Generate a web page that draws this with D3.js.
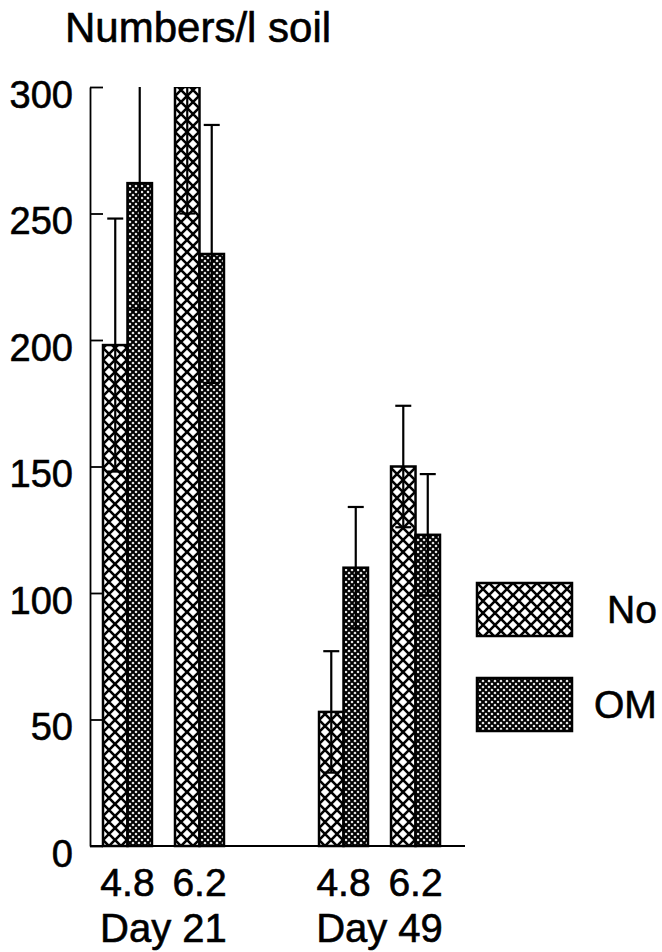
<!DOCTYPE html>
<html>
<head>
<meta charset="utf-8">
<script src="https://cdn.jsdelivr.net/npm/d3@7"></script>
<style>
  body { margin: 0; background: #fff; }
  text { font-family: "Liberation Sans", Arial, Helvetica, sans-serif; fill: #000; stroke: #000; stroke-width: 0.6px; }
</style>
</head>
<body>
<div id="chart"></div>
<script>
// data
const days = ["Day 21", "Day 49"];
const phs = ["4.8", "6.2"];
const treatments = ["No", "OM"];
const noMeans = [198, 300, 53, 150];
const noErr = [50, 50, 24, 24];
const omMeans = [262, 234, 110, 123];
const omErr = [50, 51, 24, 24];
const yTicks = [0, 50, 100, 150, 200, 250, 300];

(function() {
    // build rows: one per day/pH group
    const groups = [];
    days.forEach((day, i) => {
        phs.forEach((ph, j) => {
            const k = i * phs.length + j;
            groups.push({
                key: day + "|" + ph, day, ph,
                bars: [
                    { t: "No", v: noMeans[k], e: noErr[k] },
                    { t: "OM", v: omMeans[k], e: omErr[k] }
                ]
            });
        });
    });
    // empty slot between the two days
    const slots = [groups[0].key, groups[1].key, "gap", groups[2].key, groups[3].key];

    const W = 662, H = 952;
    const svg = d3.select("#chart").append("svg")
        .attr("width", W)
        .attr("height", H);

    const plotLeft = 90, plotTop = 87, plotBottom = 846, plotRight = 465;

    const y = d3.scaleLinear().domain([0, 300]).range([plotBottom, plotTop]);
    const x = d3.scaleBand().domain(slots).range([103, 440]).paddingInner(0.32).paddingOuter(0);
    const xt = d3.scaleBand().domain(treatments).range([0, x.bandwidth()]);

    // patterns
    const defs = svg.append("defs");
    const pNo = defs.append("pattern").attr("id", "pat-No")
        .attr("patternUnits", "userSpaceOnUse").attr("width", 12).attr("height", 12);
    pNo.append("rect").attr("width", 12).attr("height", 12).attr("fill", "#fff");
    pNo.append("path").attr("d", "M-1,-1L13,13M13,-1L-1,13")
        .attr("stroke", "#000").attr("stroke-width", 2.6);

    const pOM = defs.append("pattern").attr("id", "pat-OM")
        .attr("patternUnits", "userSpaceOnUse").attr("width", 6).attr("height", 6);
    pOM.append("rect").attr("width", 6).attr("height", 6).attr("fill", "#fff");
    pOM.append("path").attr("d", "M-1,-1L7,7M7,-1L-1,7")
        .attr("stroke", "#000").attr("stroke-width", 2.1);

    defs.append("clipPath").attr("id", "plot-clip")
        .append("rect").attr("x", 0).attr("y", plotTop).attr("width", W).attr("height", plotBottom - plotTop + 20);

    // title
    svg.append("text")
        .attr("x", 65).attr("y", 42)
        .style("font-size", "42px")
        .text("Numbers/l soil");

    // bars
    const g = svg.append("g").attr("clip-path", "url(#plot-clip)");
    const grp = g.selectAll(".grp").data(groups).join("g")
        .attr("class", "grp")
        .attr("transform", d => `translate(${x(d.key)},0)`);

    grp.selectAll("rect").data(d => d.bars).join("rect")
        .attr("x", d => xt(d.t))
        .attr("y", d => y(d.v))
        .attr("width", xt.bandwidth())
        .attr("height", d => y(0) - y(d.v))
        .attr("fill", d => `url(#pat-${d.t})`)
        .attr("stroke", "#000")
        .attr("stroke-width", 2.5);

    // error bars
    const eb = grp.selectAll(".err").data(d => d.bars).join("g").attr("class", "err")
        .attr("stroke", "#000").attr("stroke-width", 2.2);
    const cx = d => xt(d.t) + xt.bandwidth() / 2;
    eb.append("line")
        .attr("x1", cx).attr("x2", cx)
        .attr("y1", d => y(d.v - d.e)).attr("y2", d => y(d.v + d.e));
    eb.append("line")
        .attr("x1", d => cx(d) - 8).attr("x2", d => cx(d) + 8)
        .attr("y1", d => y(d.v + d.e)).attr("y2", d => y(d.v + d.e));
    eb.append("line")
        .attr("x1", d => cx(d) - 8).attr("x2", d => cx(d) + 8)
        .attr("y1", d => y(d.v - d.e)).attr("y2", d => y(d.v - d.e));

    // y axis with inward ticks
    const yAxis = svg.append("g")
        .attr("transform", `translate(${plotLeft},0)`)
        .call(d3.axisLeft(y).tickValues(yTicks).tickSize(-13).tickSizeOuter(0).tickPadding(17));
    yAxis.selectAll("path, line").attr("stroke", "#000").attr("stroke-width", 1.8);
    yAxis.selectAll("text")
        .attr("dy", "0.53em")
        .style("font-size", "38px")
        .style("font-family", "'Liberation Sans', Arial, sans-serif")
        .attr("fill", "#000");

    // baseline
    svg.append("line")
        .attr("x1", plotLeft).attr("x2", plotRight)
        .attr("y1", y(0)).attr("y2", y(0))
        .attr("stroke", "#000").attr("stroke-width", 1.8);

    // pH labels
    svg.selectAll(".ph").data(groups).join("text")
        .attr("class", "ph")
        .attr("x", d => x(d.key) + x.bandwidth() / 2)
        .attr("y", 896)
        .attr("text-anchor", "middle")
        .style("font-size", "39px")
        .text(d => d.ph);

    // day labels
    svg.selectAll(".day").data(days).join("text")
        .attr("class", "day")
        .attr("x", d => {
            const gs = groups.filter(r => r.day === d);
            return d3.mean(gs, r => x(r.key) + x.bandwidth() / 2);
        })
        .attr("y", 942)
        .attr("text-anchor", "middle")
        .style("font-size", "40px")
        .text(d => d);

    // legend
    const leg = svg.append("g").selectAll("g").data(treatments).join("g")
        .attr("transform", (d, i) => `translate(477,${583 + i * 95})`);
    leg.append("rect")
        .attr("width", 95).attr("height", 53)
        .attr("fill", d => `url(#pat-${d})`)
        .attr("stroke", "#000").attr("stroke-width", 2.5);
    leg.append("text")
        .attr("x", (d, i) => i === 0 ? 130 : 117)
        .attr("y", 40)
        .style("font-size", "39px")
        .text(d => d);
})();
</script>
</body>
</html>
